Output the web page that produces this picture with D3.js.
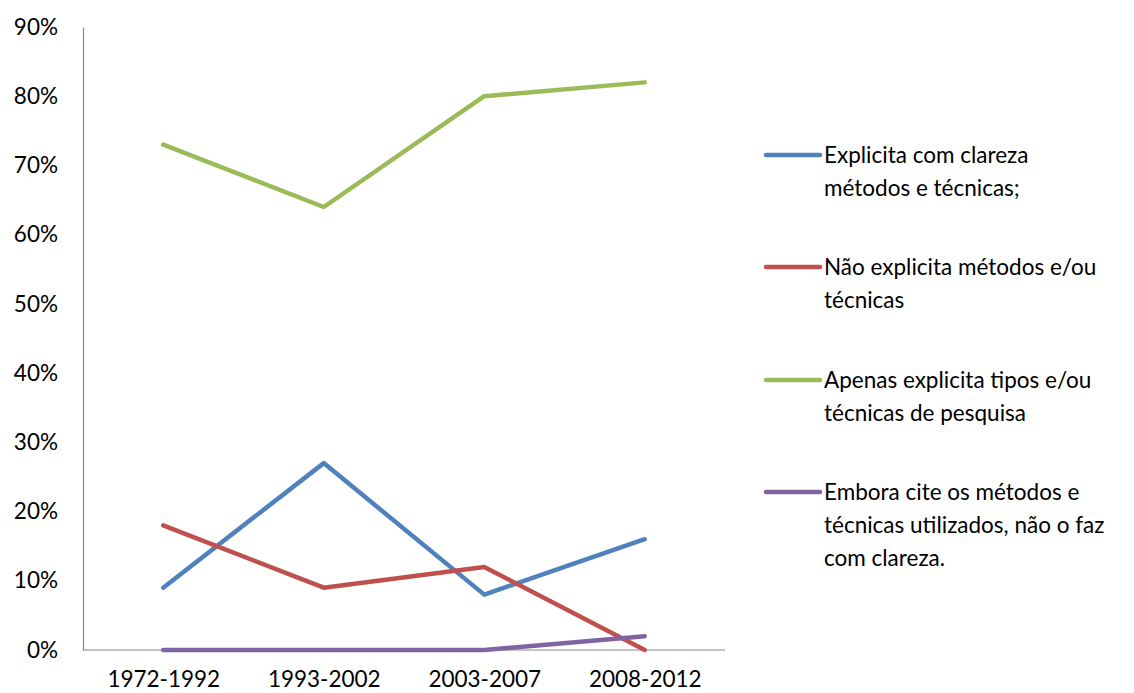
<!DOCTYPE html>
<html>
<head>
<meta charset="utf-8">
<script src="https://cdn.jsdelivr.net/npm/d3@7.9.0/dist/d3.min.js"></script>
<style>
  body { margin: 0; background: #fff; }
  text { font-family: Lato, "Open Sans", sans-serif; fill: #000; }
</style>
</head>
<body>
<svg id="chart" width="1134" height="693"></svg>
<script>
const periods = ['1972-1992', '1993-2002', '2003-2007', '2008-2012'];
const seriesNames = [
  ['Explicita com clareza', 'métodos e técnicas;'],
  ['Não explicita métodos e/ou', 'técnicas'],
  ['Apenas explicita tipos e/ou', 'técnicas de pesquisa'],
  ['Embora cite os métodos e', 'técnicas utilizados, não o faz', 'com clareza.']
];
const explicita = [0.09, 0.27, 0.08, 0.16];
const naoExplicita = [0.18, 0.09, 0.12, 0.00];
const apenasTipos = [0.73, 0.64, 0.80, 0.82];
const emboraCite = [0.00, 0.00, 0.00, 0.02];
const yTicks = [0, 0.1, 0.2, 0.3, 0.4, 0.5, 0.6, 0.7, 0.8, 0.9];
const colors = ['#4F81BD', '#C0504D', '#9BBB59', '#8064A2'];

const series = [explicita, naoExplicita, apenasTipos, emboraCite].map((values, i) => ({
  name: seriesNames[i], values, color: colors[i]
}));

const svg = d3.select('#chart');
const plot = { left: 83, right: 725, top: 27, bottom: 650 };
const fontSize = '22.5px';

const x = d3.scalePoint().domain(periods).range([plot.left, plot.right]).padding(0.5);
const y = d3.scaleLinear().domain([0, 0.9]).range([plot.bottom, plot.top]);

// Axes
const yAxis = svg.append('g')
  .attr('transform', `translate(${plot.left},0)`)
  .call(d3.axisLeft(y).tickValues(yTicks).tickFormat(d3.format('.0%')).tickSize(0).tickPadding(25));
yAxis.select('.domain').attr('stroke', '#888').attr('stroke-width', 1.2);
yAxis.selectAll('text').style('font-size', fontSize).style('font-family', 'Lato, sans-serif');

const xAxis = svg.append('g')
  .attr('transform', `translate(0,${plot.bottom})`)
  .call(d3.axisBottom(x).tickSize(0).tickPadding(21));
xAxis.select('.domain').attr('d', `M${plot.left},0H${plot.right}`).attr('stroke', '#888').attr('stroke-width', 1.2);
xAxis.selectAll('text').style('font-size', fontSize).style('font-family', 'Lato, sans-serif');

// Lines
const line = d3.line().x((d, i) => x(periods[i])).y(d => y(d));
svg.append('g').selectAll('path')
  .data(series)
  .join('path')
  .attr('d', d => line(d.values))
  .attr('fill', 'none')
  .attr('stroke', d => d.color)
  .attr('stroke-width', 4.5)
  .attr('stroke-linejoin', 'round')
  .attr('stroke-linecap', 'round');

// Legend
const legendTops = [155, 267, 380, 492];
const legend = svg.append('g').selectAll('g')
  .data(series)
  .join('g')
  .attr('transform', (d, i) => `translate(766,${legendTops[i]})`);
legend.append('line')
  .attr('x1', 0).attr('x2', 54)
  .attr('stroke', d => d.color)
  .attr('stroke-width', 4.5)
  .attr('stroke-linecap', 'round');
legend.append('text')
  .style('font-size', fontSize)
  .selectAll('tspan')
  .data(d => d.name)
  .join('tspan')
  .attr('x', 58)
  .attr('y', (d, i) => i * 33)
  .attr('dy', '0.35em')
  .text(d => d);
</script>
</body>
</html>
